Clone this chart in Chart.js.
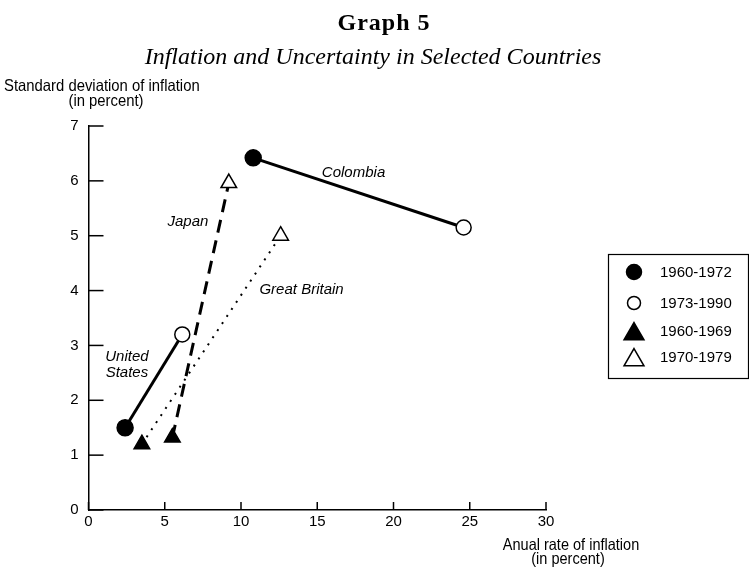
<!DOCTYPE html>
<html>
<head>
<meta charset="utf-8">
<script src="https://cdn.jsdelivr.net/npm/chart.js@4/dist/chart.umd.min.js"></script>
<style>
  body { margin: 0; background: #fff; }
  canvas { display: block; }
</style>
</head>
<body>
<canvas id="mainChart" width="749" height="569"></canvas>
<script>
// values
const countries = ['United States', 'Colombia', 'Japan', 'Great Britain'];
const startInflation = [2.4, 10.8, 5.5, 3.5];
const startStdDev = [1.5, 6.42, 1.32, 1.2];
const endInflation = [6.15, 24.6, 9.2, 12.6];
const endStdDev = [3.2, 5.15, 5.96, 5.0];
const periodLabels = ['1960-1972', '1973-1990', '1960-1969', '1970-1979'];
const xTicks = [0, 5, 10, 15, 20, 25, 30];
const yTicks = [0, 1, 2, 3, 4, 5, 6, 7];

// where the country names sit, in data units
const nameLabels = ['United\nStates', 'Colombia', 'Japan', 'Great Britain'];
const nameX = [2.52, 17.38, 6.52, 13.97];
const nameY = [2.65, 6.14, 5.25, 4.01];

const lineDash = [[], [], [13, 8], [2, 6.5]];
const lineWidth = [3, 3, 3, 2];

const sansFont = '"Liberation Sans", Arial, sans-serif';
const serifFont = '"Liberation Serif", "DejaVu Serif", serif';

// circles for US + Colombia, triangles for Japan + Great Britain
const markerSets = [
    { label: periodLabels[0], idx: [0, 1], which: 'start', style: 'circle', filled: true, radius: 8 },
    { label: periodLabels[1], idx: [0, 1], which: 'end', style: 'circle', filled: false, radius: 7.5 },
    { label: periodLabels[2], idx: [2, 3], which: 'start', style: 'triangle', filled: true, radius: 9 },
    { label: periodLabels[3], idx: [2, 3], which: 'end', style: 'triangle', filled: false, radius: 9 }
];

const lineDatasets = countries.map((c, i) => ({
    type: 'line',
    label: c,
    data: [{ x: startInflation[i], y: startStdDev[i] }, { x: endInflation[i], y: endStdDev[i] }],
    borderColor: '#000',
    borderWidth: lineWidth[i],
    borderDash: lineDash[i],
    pointRadius: 0,
    fill: false,
    order: 2
}));

const markerDatasets = markerSets.map(m => ({
    type: 'scatter',
    label: m.label,
    data: m.idx.map(i => m.which === 'start'
        ? { x: startInflation[i], y: startStdDev[i] }
        : { x: endInflation[i], y: endStdDev[i] }),
    pointStyle: m.style,
    pointRadius: m.radius,
    pointBackgroundColor: m.filled ? '#000' : '#fff',
    pointBorderColor: '#000',
    pointBorderWidth: 1.5,
    order: 0
}));

// the scan uses a condensed sans, so squeeze the text a bit
const narrowText = (ctx, text, x, y, squeeze) => {
    ctx.save();
    ctx.translate(x, y);
    ctx.scale(squeeze, 1);
    ctx.fillText(text, 0, 0);
    ctx.restore();
};

const paperPlugin = {
    id: 'paper',
    afterDraw: (chart) => {
        const ctx = chart.ctx;
        const xs = chart.scales.x, ys = chart.scales.y;
        ctx.save();
        ctx.fillStyle = '#000';
        ctx.strokeStyle = '#000';

        // titles
        ctx.textAlign = 'center';
        ctx.textBaseline = 'alphabetic';
        ctx.font = 'bold 24px ' + serifFont;
        ctx.letterSpacing = '1px';
        ctx.fillText('Graph 5', 384, 30);
        ctx.letterSpacing = '0px';
        ctx.font = 'italic 24px ' + serifFont;
        ctx.fillText('Inflation and Uncertainty in Selected Countries', 373, 64);

        // axis titles
        ctx.font = '16.5px ' + sansFont;
        ctx.textAlign = 'left';
        narrowText(ctx, 'Standard deviation of inflation', 4, 91, 0.9);
        ctx.textAlign = 'center';
        narrowText(ctx, '(in percent)', 106, 106, 0.9);
        narrowText(ctx, 'Anual rate of inflation', 571, 550, 0.88);
        narrowText(ctx, '(in percent)', 568, 564, 0.88);

        // inward tick marks
        ctx.lineWidth = 1.5;
        yTicks.forEach(v => {
            const py = ys.getPixelForValue(v);
            ctx.beginPath();
            ctx.moveTo(xs.left, py);
            ctx.lineTo(xs.left + 15, py);
            ctx.stroke();
        });
        xTicks.forEach(v => {
            const px = xs.getPixelForValue(v);
            ctx.beginPath();
            ctx.moveTo(px, ys.bottom);
            ctx.lineTo(px, ys.bottom - 8);
            ctx.stroke();
        });

        // country names
        ctx.font = 'italic 15px ' + sansFont;
        ctx.textBaseline = 'middle';
        nameLabels.forEach((t, i) => {
            const lines = t.split('\n');
            const px = xs.getPixelForValue(nameX[i]);
            const py = ys.getPixelForValue(nameY[i]);
            lines.forEach((l, k) => {
                ctx.fillText(l, px, py + (k - (lines.length - 1) / 2) * 16);
            });
        });

        // legend box
        ctx.lineWidth = 1.2;
        ctx.strokeRect(608.5, 254.5, 140, 124);
        ctx.font = '15px ' + sansFont;
        ctx.textAlign = 'left';
        const rowY = [272, 303, 331, 357];
        markerSets.forEach((m, k) => {
            ctx.fillStyle = m.filled ? '#000' : '#fff';
            ctx.strokeStyle = '#000';
            ctx.lineWidth = 1.5;
            const isTri = m.style === 'triangle';
            Chart.helpers.drawPoint(ctx, {
                pointStyle: m.style,
                radius: isTri ? 11.5 : (m.filled ? 7.5 : 6.5),
                borderWidth: 1.5,
                rotation: 0
            }, 634, rowY[k] + (isTri ? 3 : 0));
            ctx.fillStyle = '#000';
            ctx.fillText(m.label, 660, rowY[k] + 1);
        });
        ctx.restore();
    }
};

const tickFont = { family: sansFont, size: 15 };

new Chart(document.getElementById('mainChart'), {
    data: { datasets: [...lineDatasets, ...markerDatasets] },
    options: {
        responsive: false,
        animation: false,
        devicePixelRatio: 1,
        layout: { padding: { top: 126, right: 203, left: 0, bottom: 0 } },
        plugins: {
            legend: { display: false },
            tooltip: { enabled: false }
        },
        scales: {
            x: {
                type: 'linear',
                min: 0,
                max: 30,
                afterBuildTicks: (scale) => { scale.ticks = xTicks.map(v => ({ value: v })); },
                afterFit: (scale) => { scale.height = 59; },
                ticks: { color: '#000', font: tickFont, padding: 3 },
                grid: { display: true, drawOnChartArea: false, drawTicks: false },
                border: { color: '#000', width: 1.5 }
            },
            y: {
                type: 'linear',
                min: 0,
                max: 7,
                afterBuildTicks: (scale) => { scale.ticks = yTicks.map(v => ({ value: v })); },
                afterFit: (scale) => { scale.width = 88.5; },
                ticks: { color: '#000', font: tickFont, padding: 10 },
                grid: { display: true, drawOnChartArea: false, drawTicks: false },
                border: { color: '#000', width: 1.5 }
            }
        }
    },
    plugins: [paperPlugin]
});
</script>
</body>
</html>
